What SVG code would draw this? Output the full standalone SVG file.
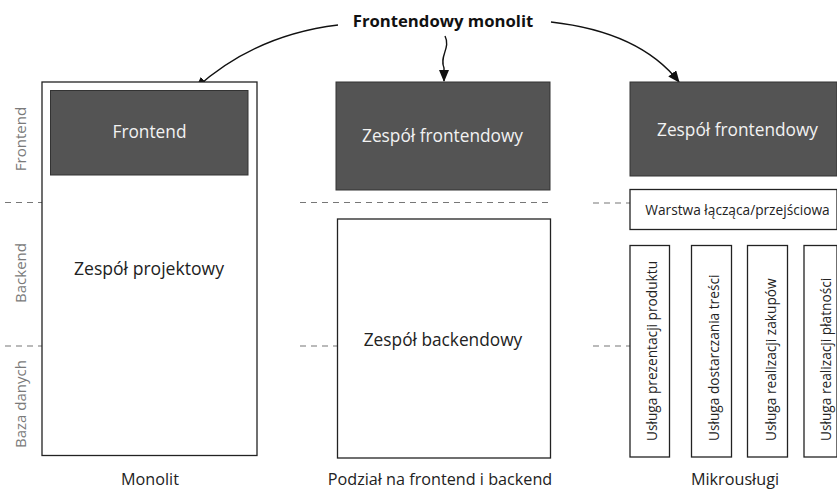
<svg xmlns="http://www.w3.org/2000/svg" width="837" height="491" viewBox="0 0 837 491">
<defs>
<style>
text{font-family:"Open Sans","Noto Sans",sans-serif;}
.dark{fill:#545454;stroke:#333;stroke-width:1;}
.box{fill:#fff;stroke:#222;stroke-width:1.3;}
.wt{fill:#f2f2f2;font-size:17.3px;text-anchor:middle;}
.bt{fill:#222;font-size:17.3px;text-anchor:middle;}
.side{fill:#7a7a7a;font-size:15px;text-anchor:middle;}
.svc{fill:#222;font-size:13.7px;text-anchor:start;}
.cap{fill:#222;font-size:16.2px;text-anchor:middle;}
.dash{stroke:#777;stroke-width:1.2;stroke-dasharray:6 5;fill:none;}
.conn{stroke:#111;stroke-width:1.4;fill:none;}
</style>
<marker id="ah" markerWidth="12" markerHeight="10" refX="11" refY="5" orient="auto" markerUnits="userSpaceOnUse">
<path d="M0,0 L12,5 L0,10 Z" fill="#111"/>
</marker>
</defs>
<rect width="837" height="491" fill="#fff"/>

<g id="title">
<text x="443" y="27" style="font-size:16.7px;font-weight:bold;fill:#111;text-anchor:middle">Frontendowy monolit</text>
</g>

<g id="connectors">
<path class="conn" d="M338,25 Q255,35 196,88" marker-end="url(#ah)"/>
<path class="conn" d="M445,36 C451,48 439,56 444,68 L444,81" marker-end="url(#ah)"/>
<path class="conn" d="M551,22 Q640,32 679,82" marker-end="url(#ah)"/>
</g>

<g id="layers">
<text class="side" transform="translate(25.5,139) rotate(-90)">Frontend</text>
<text class="side" transform="translate(25.5,273) rotate(-90)">Backend</text>
<text class="side" transform="translate(25.5,404) rotate(-90)">Baza danych</text>
<line class="dash" x1="5" y1="202.5" x2="42" y2="202.5"/>
<line class="dash" x1="5" y1="346" x2="42" y2="346"/>
<line class="dash" x1="300" y1="202.5" x2="551" y2="202.5"/>
<line class="dash" x1="300" y1="346" x2="337" y2="346"/>
<line class="dash" x1="593" y1="203" x2="630" y2="203"/>
<line class="dash" x1="593" y1="346" x2="630" y2="346"/>
</g>

<g id="monolit">
<rect class="box" x="42" y="82" width="215" height="373.5"/>
<rect class="dark" x="50.5" y="90.5" width="197.5" height="84.5"/>
<text class="wt" x="149.5" y="138">Frontend</text>
<text class="bt" x="149" y="275" style="font-size:17.6px">Zespół projektowy</text>
<text class="cap" x="150" y="485">Monolit</text>
</g>

<g id="podzial">
<rect class="dark" x="336" y="82" width="214" height="108"/>
<text class="wt" x="442.5" y="142">Zespół frontendowy</text>
<rect class="box" x="337.5" y="219" width="213" height="239"/>
<text class="bt" x="443" y="346">Zespół backendowy</text>
<text class="cap" x="440" y="485">Podział na frontend i backend</text>
</g>

<g id="mikro">
<rect class="dark" x="630" y="82" width="207" height="94"/>
<text class="wt" x="737.5" y="136">Zespół frontendowy</text>
<rect class="box" x="630" y="189.5" width="207" height="40"/>
<text class="bt" x="737.5" y="215" style="font-size:13.7px">Warstwa łącząca/przejściowa</text>
<g id="svc1"><rect class="box" x="630" y="245.5" width="39.5" height="211.5"/><text class="svc" transform="translate(657,441) rotate(-90)">Usługa prezentacji produktu</text></g>
<g id="svc2"><rect class="box" x="691.5" y="245.5" width="40" height="211.5"/><text class="svc" transform="translate(719,441) rotate(-90)">Usługa dostarczania treści</text></g>
<g id="svc3"><rect class="box" x="747.5" y="245.5" width="40" height="211.5"/><text class="svc" transform="translate(776,441) rotate(-90)">Usługa realizacji zakupów</text></g>
<g id="svc4"><rect class="box" x="804" y="245.5" width="33" height="211.5"/><text class="svc" transform="translate(831,441) rotate(-90)">Usługa realizacji płatności</text></g>
<text class="cap" x="735" y="485">Mikrousługi</text>
</g>
</svg>
